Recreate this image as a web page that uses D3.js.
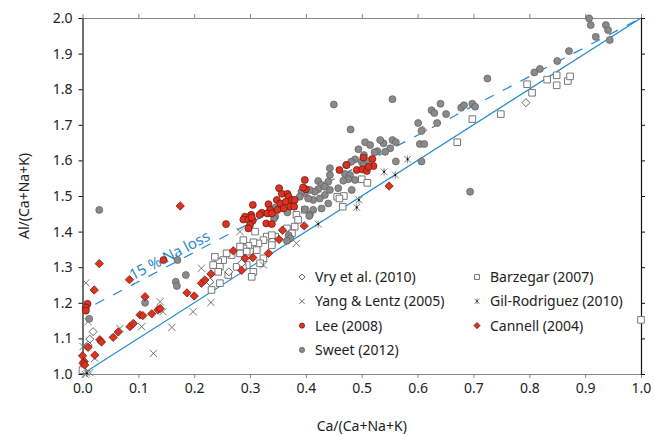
<!DOCTYPE html>
<html>
<head>
<meta charset="utf-8">
<script src="https://cdn.jsdelivr.net/npm/d3@7"></script>
<style>
  body { margin: 0; background: #fff; }
  svg { display: block; font-family: "Noto Sans", "Open Sans", sans-serif; }
</style>
</head>
<body>
<div id="chart"></div>
<script>
// DATA  [Ca/(Ca+Na+K), Al/(Ca+Na+K)]
const sweet = [
  [0.907, 1.999], [0.910, 1.980], [0.937, 1.980], [0.941, 1.966], [0.919, 1.947], [0.944, 1.938],
  [0.871, 1.907], [0.850, 1.879], [0.819, 1.857], [0.809, 1.847], [0.725, 1.830], [0.555, 1.772],
  [0.641, 1.759], [0.625, 1.741], [0.630, 1.733], [0.651, 1.730], [0.678, 1.748], [0.683, 1.755],
  [0.698, 1.759], [0.703, 1.751], [0.601, 1.705], [0.635, 1.705], [0.607, 1.683], [0.604, 1.646],
  [0.612, 1.646], [0.607, 1.597], [0.561, 1.597], [0.555, 1.657], [0.561, 1.651], [0.539, 1.648],
  [0.533, 1.657], [0.551, 1.634], [0.542, 1.624], [0.694, 1.512],
  [0.450, 1.757], [0.480, 1.687], [0.506, 1.651], [0.515, 1.643], [0.494, 1.631], [0.528, 1.626],
  [0.523, 1.623], [0.504, 1.615], [0.488, 1.603], [0.481, 1.596], [0.472, 1.587], [0.500, 1.596],
  [0.510, 1.598], [0.503, 1.587], [0.443, 1.578], [0.443, 1.559], [0.470, 1.562], [0.479, 1.559],
  [0.476, 1.547], [0.488, 1.545], [0.467, 1.543], [0.440, 1.540], [0.422, 1.542], [0.428, 1.531],
  [0.434, 1.526], [0.422, 1.519], [0.416, 1.512], [0.434, 1.503], [0.425, 1.493], [0.413, 1.489],
  [0.404, 1.493], [0.398, 1.508], [0.392, 1.512], [0.389, 1.498], [0.407, 1.517], [0.440, 1.479],
  [0.428, 1.465], [0.413, 1.461], [0.407, 1.447], [0.458, 1.522], [0.482, 1.517], [0.443, 1.517],
  [0.345, 1.442], [0.369, 1.390], [0.372, 1.381], [0.398, 1.463], [0.406, 1.444], [0.345, 1.467],
  [0.367, 1.454], [0.343, 1.437], [0.366, 1.374],
  [0.170, 1.320], [0.185, 1.278], [0.167, 1.259], [0.169, 1.247], [0.112, 1.200], [0.030, 1.461],
  [0.012, 1.155]
];

const lee = [
  [0.352, 1.522], [0.357, 1.506], [0.367, 1.506], [0.369, 1.498], [0.348, 1.489], [0.354, 1.479],
  [0.364, 1.484], [0.375, 1.489], [0.377, 1.475], [0.372, 1.470], [0.333, 1.477], [0.360, 1.465],
  [0.349, 1.461], [0.336, 1.461], [0.321, 1.453], [0.317, 1.447], [0.331, 1.451], [0.339, 1.451],
  [0.305, 1.475], [0.302, 1.447], [0.291, 1.442], [0.288, 1.434], [0.297, 1.434], [0.305, 1.431],
  [0.300, 1.419], [0.297, 1.409], [0.329, 1.423], [0.339, 1.421], [0.257, 1.421], [0.303, 1.440],
  [0.398, 1.545], [0.400, 1.519], [0.395, 1.524], [0.380, 1.489], [0.379, 1.470],
  [0.460, 1.573], [0.473, 1.587], [0.491, 1.573], [0.501, 1.575], [0.509, 1.570], [0.503, 1.608],
  [0.519, 1.604], [0.521, 1.584], [0.512, 1.582],
  [0.009, 1.197], [0.006, 1.187], [0.006, 1.178], [0.145, 1.320]
];

const cannell = [
  [0.000, 1.051], [0.003, 1.035], [0.001, 1.030], [0.004, 1.025], [0.010, 1.075], [0.022, 1.053],
  [0.031, 1.096], [0.034, 1.090], [0.055, 1.103], [0.064, 1.118], [0.085, 1.133], [0.091, 1.142],
  [0.103, 1.166], [0.108, 1.164], [0.124, 1.169], [0.135, 1.180], [0.139, 1.184], [0.112, 1.217],
  [0.084, 1.265], [0.021, 1.236], [0.030, 1.310], [0.175, 1.472], [0.187, 1.228], [0.200, 1.219],
  [0.213, 1.255], [0.219, 1.264], [0.230, 1.281], [0.270, 1.346], [0.291, 1.325], [0.305, 1.327],
  [0.333, 1.339], [0.285, 1.291], [0.352, 1.378], [0.358, 1.404], [0.397, 1.416], [0.549, 1.528]
];

const vry = [
  [0.019, 1.119], [0.013, 1.098], [0.010, 1.081], [0.228, 1.259], [0.262, 1.287], [0.285, 1.311],
  [0.609, 1.685], [0.794, 1.762]
];

const barzegar = [
  [0.671, 1.651], [0.698, 1.716], [0.749, 1.730], [0.796, 1.814], [0.805, 1.790], [0.832, 1.827],
  [0.849, 1.839], [0.849, 1.811], [0.869, 1.823], [0.873, 1.836], [1.000, 1.152],
  [0.500, 1.547], [0.510, 1.537], [0.468, 1.500], [0.456, 1.498], [0.466, 1.470], [0.460, 1.493],
  [0.398, 1.461], [0.383, 1.447], [0.386, 1.433], [0.380, 1.414], [0.366, 1.409], [0.375, 1.395],
  [0.345, 1.386], [0.339, 1.376], [0.330, 1.386], [0.324, 1.376], [0.315, 1.367], [0.306, 1.370],
  [0.297, 1.360], [0.312, 1.348], [0.300, 1.344], [0.288, 1.353], [0.282, 1.339], [0.267, 1.334],
  [0.258, 1.339], [0.252, 1.320], [0.243, 1.315], [0.237, 1.329], [0.234, 1.306], [0.246, 1.301],
  [0.294, 1.306], [0.306, 1.287], [0.276, 1.301], [0.246, 1.255], [0.231, 1.236], [0.288, 1.376],
  [0.339, 1.362], [0.339, 1.390], [0.309, 1.400], [0.294, 1.344], [0.287, 1.301], [0.261, 1.278],
  [0.243, 1.287], [0.282, 1.358], [0.324, 1.325], [0.318, 1.311], [0.303, 1.273], [0.000, 1.011]
];

const yang = [
  [0.006, 1.256], [0.010, 1.147], [0.001, 1.077], [0.005, 0.999], [0.013, 1.004], [0.022, 1.044],
  [0.127, 1.058], [0.160, 1.131], [0.139, 1.203], [0.144, 1.175], [0.106, 1.133], [0.067, 1.128],
  [0.198, 1.175], [0.213, 1.297], [0.230, 1.201], [0.282, 1.400], [0.324, 1.306], [0.383, 1.367]
];

const gil = [
  [0.582, 1.603], [0.540, 1.568], [0.560, 1.559], [0.495, 1.489], [0.491, 1.468], [0.422, 1.421],
  [0.008, 1.002]
];

// reference lines
const oneToOne = [[0, 1], [1, 2]];
const naLoss = [[0.023, 1.196], [1, 2]];

const xTicks = d3.range(0, 1.0001, 0.1);
const yTicks = d3.range(1, 2.0001, 0.1);

const legendItems = [
  { name: "Vry et al. (2010)", type: "vry" },
  { name: "Barzegar (2007)", type: "barzegar" },
  { name: "Yang & Lentz (2005)", type: "yang" },
  { name: "Gil-Rodriguez (2010)", type: "gil" },
  { name: "Lee (2008)", type: "lee" },
  { name: "Cannell (2004)", type: "cannell" },
  { name: "Sweet (2012)", type: "sweet" }
];

const blue = "#1f8ad0";
const red = "#e0301e";

const margin = { top: 18, right: 14, bottom: 61, left: 82.5 };
const W = 655, H = 435;
const width = W - margin.left - margin.right;
const height = H - margin.top - margin.bottom;

const svg = d3.select("#chart").append("svg")
  .attr("width", W)
  .attr("height", H);

const g = svg.append("g")
  .attr("transform", `translate(${margin.left},${margin.top})`);

const x = d3.scaleLinear().domain([0, 1]).range([0, width]);
const y = d3.scaleLinear().domain([1, 2]).range([height, 0]);

// axes
const fmt = d3.format(".1f");
function styleAxis(sel, col) {
  sel.select(".domain").attr("stroke", col).attr("stroke-width", 1.2);
  sel.selectAll(".tick line").attr("stroke", col);
  sel.selectAll(".tick text").attr("fill", "#222").style("font-size", "14px")
    .style("font-family", "Noto Sans, sans-serif");
}

g.append("g")
  .attr("transform", `translate(0,${height})`)
  .call(d3.axisBottom(x).tickValues(xTicks).tickFormat(fmt).tickSize(4).tickSizeOuter(0).tickPadding(5))
  .call(s => styleAxis(s, "#888"));

g.append("g")
  .call(d3.axisTop(x).tickValues(xTicks).tickFormat("").tickSize(4).tickSizeOuter(0))
  .call(s => styleAxis(s, "#888"));

g.append("g")
  .call(d3.axisLeft(y).tickValues(yTicks).tickFormat(fmt).tickSize(4).tickSizeOuter(0).tickPadding(6))
  .call(s => styleAxis(s, "#111"));

g.append("g")
  .attr("transform", `translate(${width},0)`)
  .call(d3.axisRight(y).tickValues(yTicks).tickFormat("").tickSize(4).tickSizeOuter(0))
  .call(s => styleAxis(s, "#111"));

// axis titles
svg.append("text")
  .attr("x", margin.left + width / 2)
  .attr("y", 431)
  .attr("text-anchor", "middle")
  .attr("fill", "#222")
  .style("font-size", "14px")
  .text("Ca/(Ca+Na+K)");

svg.append("text")
  .attr("transform", `translate(29,${margin.top + height / 2}) rotate(-90)`)
  .attr("text-anchor", "middle")
  .attr("fill", "#222")
  .style("font-size", "14px")
  .text("Al/(Ca+Na+K)");

// reference lines
const line = d3.line().x(d => x(d[0])).y(d => y(d[1]));

g.append("path")
  .attr("d", line(oneToOne))
  .attr("fill", "none")
  .attr("stroke", blue)
  .attr("stroke-width", 1.2);

g.append("path")
  .attr("d", line(naLoss))
  .attr("fill", "none")
  .attr("stroke", blue)
  .attr("stroke-width", 1.2)
  .attr("stroke-dasharray", "10,10");

// label along the dashed line
const lx = 0.09, ly = 1.196 + (lx - 0.023) * (2 - 1.196) / (1 - 0.023);
const ang = Math.atan2(y(1.196) - y(2), x(1) - x(0.023)) * 180 / Math.PI;
g.append("text")
  .attr("transform", `translate(${x(lx)},${y(ly) - 4}) rotate(${-ang})`)
  .attr("fill", blue)
  .style("font-size", "15px")
  .text("15 % Na loss");

// marker shapes
function markerPath(type, s) {
  if (type === "vry" || type === "cannell") {
    return `M0,${-s}L${s},0L0,${s}L${-s},0Z`;
  }
  if (type === "barzegar") {
    return `M${-s},${-s}H${s}V${s}H${-s}Z`;
  }
  if (type === "yang") {
    return `M${-s},${-s}L${s},${s}M${-s},${s}L${s},${-s}`;
  }
  if (type === "gil") {
    return `M${-s},${-s}L${s},${s}M${-s},${s}L${s},${-s}M0,${-s * 1.1}V${s * 1.1}`;
  }
  return null;
}

function drawMarker(sel, type, k) {
  if (type === "lee" || type === "sweet") {
    sel.append("circle")
      .attr("r", 3.5 * k)
      .attr("fill", type === "lee" ? red : "#8a8a8a")
      .attr("stroke", type === "lee" ? "#5a1a12" : "#5e5e5e")
      .attr("stroke-width", 0.7);
  } else if (type === "cannell") {
    sel.append("path")
      .attr("d", markerPath(type, 4.2 * k))
      .attr("fill", red)
      .attr("stroke", "#5a1a12")
      .attr("stroke-width", 0.7);
  } else if (type === "vry") {
    sel.append("path")
      .attr("d", markerPath(type, 4 * k))
      .attr("fill", "#fff")
      .attr("stroke", "#555")
      .attr("stroke-width", 0.9);
  } else if (type === "barzegar") {
    sel.append("path")
      .attr("d", markerPath(type, 3.3 * k))
      .attr("fill", "#fff")
      .attr("stroke", "#777")
      .attr("stroke-width", 1);
  } else if (type === "yang") {
    sel.append("path")
      .attr("d", markerPath(type, 3.6 * k))
      .attr("fill", "none")
      .attr("stroke", "#666")
      .attr("stroke-width", 0.9);
  } else if (type === "gil") {
    sel.append("path")
      .attr("d", markerPath(type, 3.4 * k))
      .attr("fill", "none")
      .attr("stroke", "#777")
      .attr("stroke-width", 0.9);
    sel.append("circle").attr("r", 1 * k).attr("fill", "#000");
  }
}

const series = [
  ["barzegar", barzegar],
  ["vry", vry],
  ["yang", yang],
  ["gil", gil],
  ["sweet", sweet],
  ["lee", lee],
  ["cannell", cannell]
];

series.forEach(([type, data]) => {
  g.append("g")
    .attr("class", `series-${type}`)
    .selectAll("g")
    .data(data)
    .enter()
    .append("g")
    .attr("transform", d => `translate(${x(d[0])},${y(d[1])})`)
    .each(function() { drawMarker(d3.select(this), type, 1); });
});

// LEGEND
const legend = svg.append("g").attr("transform", "translate(302,277)");
legend.selectAll("g")
  .data(legendItems)
  .enter()
  .append("g")
  .attr("transform", (d, i) => `translate(${(i % 2) * 175},${Math.floor(i / 2) * 24.3})`)
  .each(function(d) {
    const item = d3.select(this);
    drawMarker(item, d.type, 0.75);
    item.append("text")
      .attr("x", 13)
      .attr("y", 5)
      .attr("fill", "#222")
      .style("font-size", "14px")
      .text(d.name);
  });
</script>
</body>
</html>
